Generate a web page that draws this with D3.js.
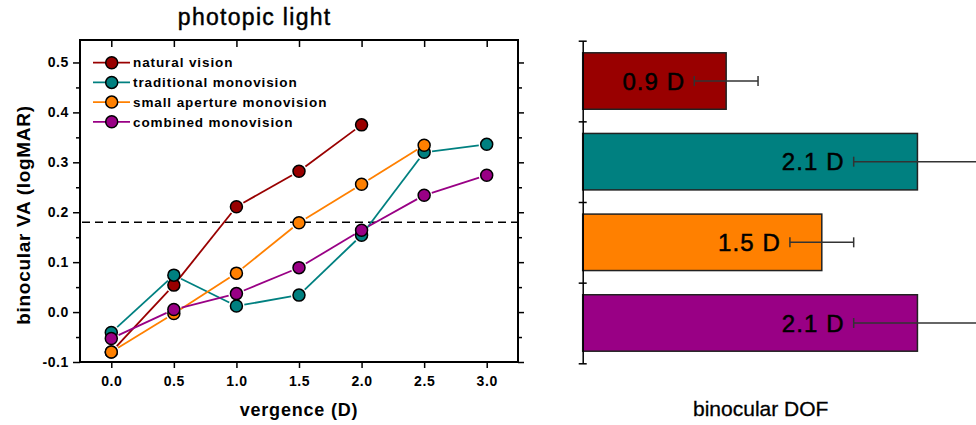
<!DOCTYPE html>
<html>
<head>
<meta charset="utf-8">
<script src="https://cdn.jsdelivr.net/npm/d3@7"></script>
<style>
  html, body { margin: 0; padding: 0; background: #fff; }
  svg { display: block; font-family: "Liberation Sans", Arial, sans-serif; }
</style>
</head>
<body>
<svg id="chart" width="976" height="425"></svg>
<script>
// ---- data ----
const vergence = [0.0, 0.5, 1.0, 1.5, 2.0, 2.5, 3.0];
const seriesNames = ["natural vision", "traditional monovision", "small aperture monovision", "combined monovision"];
const seriesColors = ["#990000", "#008080", "#FF8000", "#990085"];
const naturalVision = [-0.080, 0.054, 0.211, 0.282, 0.375];
const traditionalMono = [-0.041, 0.074, 0.012, 0.034, 0.154, 0.320, 0.336];
const smallApertureMono = [-0.080, -0.003, 0.078, 0.179, 0.256, 0.334];
const combinedMono = [-0.053, 0.005, 0.037, 0.089, 0.164, 0.234, 0.274];
const thresholdVA = 0.18;
const yTicks = [-0.1, 0.0, 0.1, 0.2, 0.3, 0.4, 0.5];
const yMinorTicks = [-0.05, 0.05, 0.15, 0.25, 0.35, 0.45];
const xTicks = [0.0, 0.5, 1.0, 1.5, 2.0, 2.5, 3.0];

const dofValues = [0.9, 2.1, 1.5, 2.1];
const dofErrors = [0.2, 0.4, 0.2, 0.4];
const dofLabels = ["0.9 D", "2.1 D", "1.5 D", "2.1 D"];

const svg = d3.select("#chart");

// ---- left chart ----
const L = { left: 80, right: 518, top: 40, bottom: 362 };
const x = d3.scaleLinear().domain([-0.25, 3.25]).range([L.left, L.right]);
const y = d3.scaleLinear().domain([-0.1, 0.545]).range([L.bottom, L.top]);

const allSeries = [naturalVision, traditionalMono, smallApertureMono, combinedMono];

// dashed threshold
svg.append("line")
  .attr("x1", x(-0.25) + 2).attr("x2", x(3.25))
  .attr("y1", y(thresholdVA)).attr("y2", y(thresholdVA))
  .attr("stroke", "#000").attr("stroke-width", 1.5)
  .attr("stroke-dasharray", "8,5");

// axes
const tickFont = g => g.selectAll("text")
  .attr("font-size", 14).attr("font-weight", "bold")
  .attr("letter-spacing", 0.6).attr("fill", "#000")
  .attr("font-family", "'Liberation Sans', Arial, sans-serif");

const yAxisL = svg.append("g").attr("transform", `translate(${L.left},0)`)
  .call(d3.axisLeft(y).tickValues(yTicks).tickFormat(d3.format(".1f")).tickSize(7).tickPadding(4));
yAxisL.call(tickFont);
yAxisL.selectAll("text").text(d => d.toFixed(1));
svg.append("g").attr("transform", `translate(${L.left},0)`)
  .call(d3.axisLeft(y).tickValues(yMinorTicks).tickFormat("").tickSize(4));

svg.append("g").attr("transform", `translate(${L.right},0)`)
  .call(d3.axisLeft(y).tickValues(yTicks).tickFormat("").tickSize(-6));
svg.append("g").attr("transform", `translate(${L.right},0)`)
  .call(d3.axisLeft(y).tickValues(yMinorTicks).tickFormat("").tickSize(-4));

const xAxisB = svg.append("g").attr("transform", `translate(0,${L.bottom})`)
  .call(d3.axisBottom(x).tickValues(xTicks).tickFormat(d3.format(".1f")).tickSize(6).tickPadding(8));
xAxisB.call(tickFont);
svg.append("g").attr("transform", `translate(0,${L.top})`)
  .call(d3.axisBottom(x).tickValues(xTicks).tickFormat("").tickSize(7));

svg.selectAll(".domain").remove();
svg.selectAll(".tick line").attr("stroke", "#000").attr("stroke-width", 1.5);

// frame
svg.append("rect")
  .attr("x", L.left).attr("y", L.top)
  .attr("width", L.right - L.left).attr("height", L.bottom - L.top)
  .attr("fill", "none").attr("stroke", "#000").attr("stroke-width", 2);

// series lines (with gaps at markers) and markers
const R = 6;
const gap = 8;
allSeries.forEach((vals, si) => {
  const g = svg.append("g");
  const pts = vals.map((v, i) => [x(vergence[i]), y(v)]);
  for (let i = 0; i < pts.length - 1; i++) {
    const [x1, y1] = pts[i], [x2, y2] = pts[i + 1];
    const len = Math.hypot(x2 - x1, y2 - y1);
    if (len <= 2 * gap) continue;
    const ux = (x2 - x1) / len, uy = (y2 - y1) / len;
    g.append("line")
      .attr("x1", x1 + ux * gap).attr("y1", y1 + uy * gap)
      .attr("x2", x2 - ux * gap).attr("y2", y2 - uy * gap)
      .attr("stroke", seriesColors[si]).attr("stroke-width", 1.8);
  }
  g.selectAll("circle").data(vals).join("circle")
    .attr("cx", (d, i) => x(vergence[i])).attr("cy", d => y(d))
    .attr("r", R).attr("fill", seriesColors[si])
    .attr("stroke", "#000").attr("stroke-width", 1.5);
});

// legend
const legend = svg.append("g");
seriesNames.forEach((name, i) => {
  const ly = 62.7 + i * 19.7;
  legend.append("line").attr("x1", 93).attr("x2", 130).attr("y1", ly).attr("y2", ly)
    .attr("stroke", seriesColors[i]).attr("stroke-width", 1.8);
  legend.append("circle").attr("cx", 111.7).attr("cy", ly).attr("r", R)
    .attr("fill", seriesColors[i]).attr("stroke", "#000").attr("stroke-width", 1.5);
  legend.append("text").attr("x", 133).attr("y", ly).attr("dy", "0.35em")
    .attr("font-size", 13.5).attr("font-weight", "bold").attr("letter-spacing", 0.9)
    .text(name);
});

// titles
svg.append("text").attr("x", 254.7).attr("y", 25).attr("text-anchor", "middle")
  .attr("font-size", 23).attr("letter-spacing", 1.3)
  .attr("stroke", "#000").attr("stroke-width", 0.45).text("photopic light");
svg.append("text").attr("x", 299).attr("y", 416).attr("text-anchor", "middle")
  .attr("font-size", 18).attr("font-weight", "bold").attr("letter-spacing", 0.8).text("vergence (D)");
svg.append("text").attr("transform", "translate(30,215) rotate(-90)").attr("text-anchor", "middle")
  .attr("font-size", 19).attr("font-weight", "bold").attr("letter-spacing", 0.7).text("binocular VA (logMAR)");

// ---- right chart ----
const B = { axisX: 582.7, top: 40.7, bottom: 363.3 };
const xb = d3.scaleLinear().domain([0, 2.5]).range([B.axisX, B.axisX + 2.5 * 159.4]);
const yb = d3.scaleBand().domain(d3.range(dofValues.length)).range([B.top, B.bottom])
  .paddingInner(0.3).paddingOuter(0.15);

const bars = svg.append("g");
dofValues.forEach((v, i) => {
  bars.append("rect")
    .attr("x", xb(0)).attr("y", yb(i))
    .attr("width", xb(v) - xb(0)).attr("height", yb.bandwidth())
    .attr("fill", seriesColors[i]).attr("stroke", "#222").attr("stroke-width", 1.5);
});
// error bars
dofValues.forEach((v, i) => {
  const cy = yb(i) + yb.bandwidth() / 2;
  const lo = xb(v - dofErrors[i]), hi = xb(v + dofErrors[i]);
  bars.append("line").attr("x1", lo).attr("x2", hi).attr("y1", cy).attr("y2", cy)
    .attr("stroke", "#333").attr("stroke-width", 1.5);
  [lo, hi].forEach(px => bars.append("line").attr("x1", px).attr("x2", px)
    .attr("y1", cy - 5).attr("y2", cy + 5).attr("stroke", "#333").attr("stroke-width", 1.5));
  bars.append("text").attr("x", lo - 9).attr("y", cy).attr("dy", "0.36em")
    .attr("text-anchor", "end").attr("font-size", 24).attr("letter-spacing", 1.1)
    .attr("fill", "#000").attr("stroke", "#000").attr("stroke-width", 0.5).text(dofLabels[i]);
});

// vertical axis with ticks at band boundaries
const yEdge = d3.scaleLinear().domain([0, dofValues.length]).range([B.top, B.bottom]);
const edgeAxis = svg.append("g").attr("transform", `translate(${B.axisX},0)`)
  .call(d3.axisLeft(yEdge).tickValues(d3.range(dofValues.length + 1)).tickFormat("").tickSize(4).tickSizeOuter(0));
edgeAxis.select(".domain").attr("stroke", "#000").attr("stroke-width", 1.5);
edgeAxis.selectAll(".tick line").attr("stroke", "#000").attr("stroke-width", 1.5).attr("x2", -4).attr("x1", 4);

svg.append("text").attr("x", 760.7).attr("y", 416).attr("text-anchor", "middle")
  .attr("font-size", 21).attr("stroke", "#000").attr("stroke-width", 0.3).text("binocular DOF");
</script>
</body>
</html>
